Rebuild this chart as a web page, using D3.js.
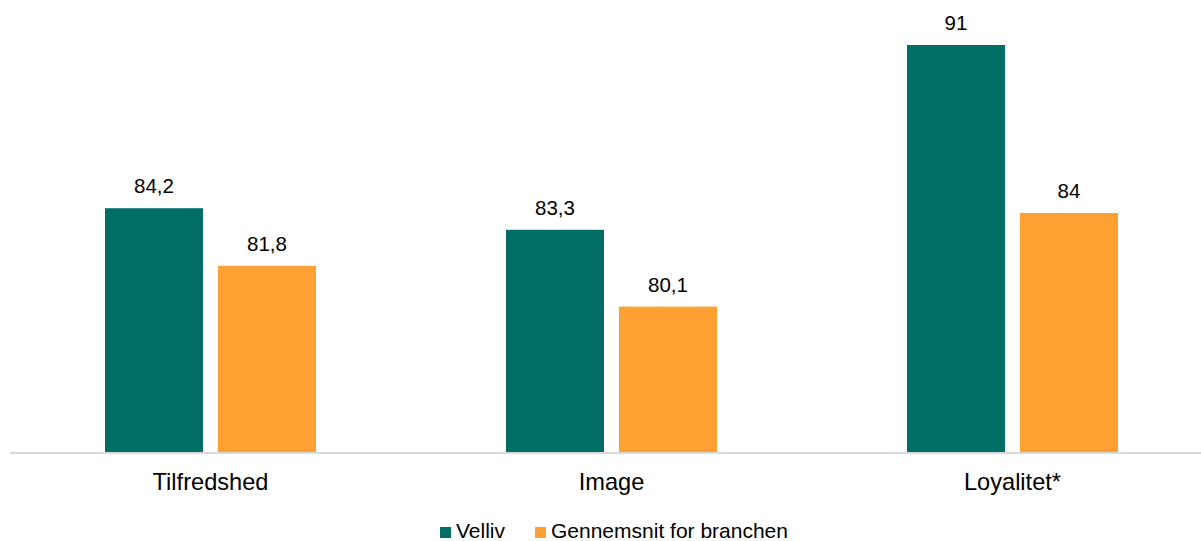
<!DOCTYPE html>
<html>
<head>
<meta charset="utf-8">
<script src="https://cdn.jsdelivr.net/npm/d3@7"></script>
<style>
  html, body { margin: 0; padding: 0; background: #ffffff; }
  svg { display: block; font-family: "Liberation Sans", Arial, sans-serif; }
</style>
</head>
<body>
<svg id="chart" width="1201" height="541"></svg>
<script>
const categories = ["Tilfredshed", "Image", "Loyalitet*"];
const series = ["Velliv", "Gennemsnit for branchen"];
const vellivValues = [84.2, 83.3, 91];
const branchenValues = [81.8, 80.1, 84];
const valueLabels = [["84,2", "81,8"], ["83,3", "80,1"], ["91", "84"]];
const colors = ["#006e64", "#ffa033"];

const svg = d3.select("#chart");

const x0 = d3.scaleBand().domain(categories).range([10, 1213]).padding(0);
const x1 = d3.scaleBand().domain(series).range([0, x0.bandwidth()])
  .paddingInner(15 / 113).paddingOuter(0.8407);
const y = d3.scaleLinear().domain([74, 92]).range([453, 21]);
const color = d3.scaleOrdinal().domain(series).range(colors);

const data = categories.map((c, i) => ({
  cat: c,
  vals: [
    { s: series[0], v: vellivValues[i], lbl: valueLabels[i][0] },
    { s: series[1], v: branchenValues[i], lbl: valueLabels[i][1] }
  ]
}));

const groups = svg.append("g").selectAll("g").data(data).join("g")
  .attr("transform", d => `translate(${x0(d.cat)},0)`);

groups.selectAll("rect").data(d => d.vals).join("rect")
  .attr("x", d => x1(d.s))
  .attr("y", d => y(d.v))
  .attr("width", x1.bandwidth())
  .attr("height", d => y(74) - y(d.v))
  .attr("fill", d => color(d.s));

groups.selectAll("text.val").data(d => d.vals).join("text")
  .attr("class", "val")
  .attr("x", d => x1(d.s) + x1.bandwidth() / 2)
  .attr("y", d => y(d.v) - 15)
  .attr("text-anchor", "middle")
  .attr("font-size", 20.5)
  .attr("fill", "#000")
  .text(d => d.lbl);

// x axis
const xAxis = d3.axisBottom(x0).tickSize(0).tickPadding(0);
const gx = svg.append("g").attr("transform", `translate(0,${y(74)})`).call(xAxis);
gx.select(".domain").attr("stroke", "#d9d9d9").attr("stroke-width", 2)
  .attr("d", "M10,0H1201");
gx.selectAll(".tick text").attr("font-size", 23.6).attr("fill", "#000")
  .attr("font-family", "Liberation Sans, Arial, sans-serif")
  .attr("dy", null).attr("y", 37);

// legend
const legendX = [440, 535];
const legend = svg.append("g").selectAll("g").data(series).join("g")
  .attr("transform", (d, i) => `translate(${legendX[i]},527)`);
legend.append("rect").attr("width", 11).attr("height", 11).attr("fill", d => color(d));
legend.append("text").attr("x", 16).attr("y", 11).attr("font-size", 21)
  .attr("fill", "#000").text(d => d);
</script>
</body>
</html>
